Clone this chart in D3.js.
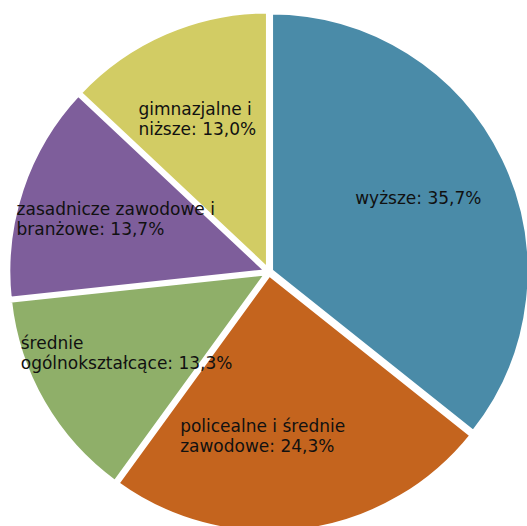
<!DOCTYPE html>
<html><head><meta charset="utf-8">
<script src="https://cdn.jsdelivr.net/npm/d3@7"></script>
<style>html,body{margin:0;padding:0;background:#fff;overflow:hidden}</style>
</head><body>
<svg id="chart" width="527" height="526"></svg>
<script>
const categories = ["wyższe", "policealne i średnie\nzawodowe", "średnie\nogólnokształcące", "zasadnicze zawodowe i\nbranżowe", "gimnazjalne i\nniższe"];
const values = [35.7, 24.3, 13.3, 13.7, 13.0];
const colors = ["#4a8ba8", "#c4641e", "#8faf69", "#7e5e9b", "#d2cc64"];
const labelNudge = [[-2, -1], [-29, -2], [3, -3], [6, 0], [-5, 1]];

const svg = d3.select("#chart");
const cx = 269, cy = 272, R = 259, explode = 2;
const g = svg.append("g").attr("transform", `translate(${cx},${cy})`);
const pie = d3.pie().sort(null).value(d => d)(values);
const arc = d3.arc().innerRadius(0).outerRadius(R);
const labelArc = d3.arc().innerRadius(168).outerRadius(168);

g.selectAll("path").data(pie).join("path")
  .attr("d", arc)
  .attr("fill", (d, i) => colors[i])
  .attr("stroke", "#fff").attr("stroke-width", 4.5).attr("stroke-linejoin", "miter")
  .attr("transform", d => {
    const a = (d.startAngle + d.endAngle) / 2;
    return `translate(${explode * Math.sin(a)},${-explode * Math.cos(a)})`;
  });

const fmt = v => v.toFixed(1).replace(".", ",") + "%";
const lh = 20;
pie.forEach((d, i) => {
  const lines = (categories[i] + ": " + fmt(values[i])).split("\n");
  const [lx, ly] = labelArc.centroid(d);
  const t = g.append("text")
    .attr("font-family", "DejaVu Sans, Verdana, sans-serif")
    .attr("font-size", 17).attr("fill", "#111");
  lines.forEach((l, k) => t.append("tspan").text(l));
  const w = d3.max(t.selectAll("tspan").nodes(), n => n.getComputedTextLength());
  const x0 = lx + labelNudge[i][0] - w / 2;
  const y0 = ly + labelNudge[i][1] - (lines.length - 1) * lh / 2 + 6;
  t.selectAll("tspan").attr("x", x0).attr("y", (_, k) => y0 + k * lh);
});
</script>
</body></html>
